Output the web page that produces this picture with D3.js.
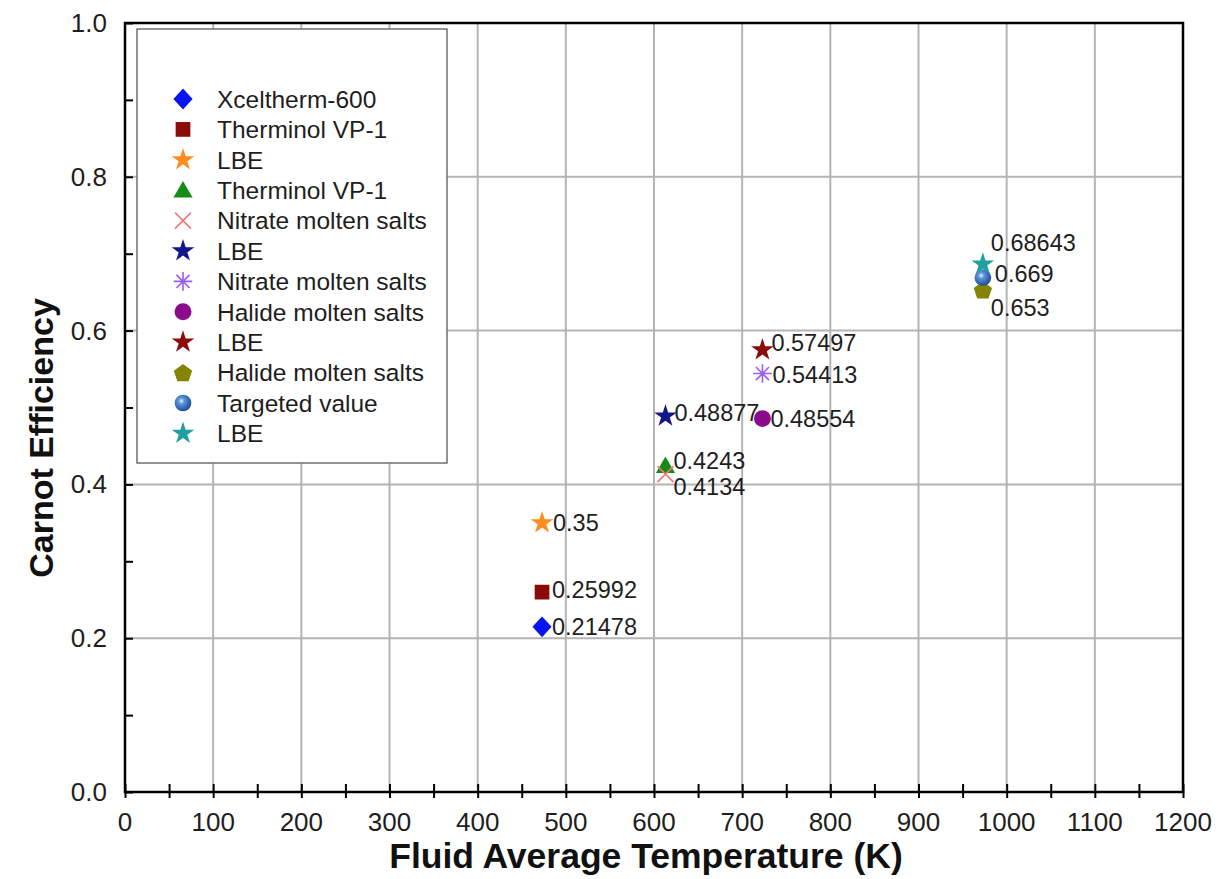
<!DOCTYPE html>
<html>
<head>
<meta charset="utf-8">
<script src="https://cdn.jsdelivr.net/npm/d3@7"></script>
<style>
  html, body { margin: 0; padding: 0; background: #ffffff; }
  svg { display: block; font-family: "Liberation Sans", Arial, Helvetica, sans-serif; }
</style>
</head>
<body>
<svg id="chart" width="1228" height="879"></svg>
<script>
// Carnot efficiency of heat-transfer fluids versus their average temperature
const seriesNames = [
  "Xceltherm-600", "Therminol VP-1", "LBE",
  "Therminol VP-1", "Nitrate molten salts", "LBE",
  "Nitrate molten salts", "Halide molten salts", "LBE",
  "Halide molten salts", "Targeted value", "LBE"
];
const temperatures = [473, 473, 473, 613, 613, 613, 723, 723, 723, 973, 973, 973];
const efficiencies = [0.21478, 0.25992, 0.35, 0.4243, 0.4134, 0.48877, 0.54413, 0.48554, 0.57497, 0.653, 0.669, 0.68643];
// legend rows follow the series order
const legendOrder = [0, 1, 2, 3, 4, 5, 6, 7, 8, 9, 10, 11];
const xTickValues = [0, 100, 200, 300, 400, 500, 600, 700, 800, 900, 1000, 1100, 1200];
const yTickValues = [0.0, 0.2, 0.4, 0.6, 0.8, 1.0];
const yTickLabels = ["0.0", "0.2", "0.4", "0.6", "0.8", "1.0"];
const xTitle = "Fluid Average Temperature (K)";
const yTitle = "Carnot Efficiency";

// marker look for each series
const markerStyle = [
  { shape: "diamond",  color: "#0a14f0" },
  { shape: "square",   color: "#8b0a0a" },
  { shape: "star",     color: "#ff8c1e" },
  { shape: "triangle", color: "#168c16" },
  { shape: "cross",    color: "#f07878" },
  { shape: "star",     color: "#14148c" },
  { shape: "asterisk", color: "#9a5cf0" },
  { shape: "circle",   color: "#8c0a8c" },
  { shape: "star",     color: "#8c0a0a" },
  { shape: "pentagon", color: "#848400" },
  { shape: "sphere",   color: "#2f6fc4" },
  { shape: "star",     color: "#22a0a0" }
];
// value-label nudges (px) so neighbouring labels do not collide
const labelShift = [
  [10, 0], [10, -2], [11, 0],
  [8, -5], [8, 13], [9, -3],
  [10, 1], [8, 0], [9, -7],
  [8, 18], [12, -4], [8, -21]
];

const svg = d3.select("#chart");
const margin = { left: 125, top: 23, right: 45, bottom: 87 };
const W = 1228, H = 879;
const x = d3.scaleLinear().domain([0, 1200]).range([margin.left, W - margin.right]);
const y = d3.scaleLinear().domain([0, 1]).range([H - margin.bottom, margin.top]);
const textColor = "#1e1e1e";

// radial gradient for the shaded sphere marker
const defs = svg.append("defs");
const grad = defs.append("radialGradient").attr("id", "sphereGrad")
  .attr("cx", "40%").attr("cy", "38%").attr("r", "60%");
grad.append("stop").attr("offset", "0%").attr("stop-color", "#e8f2ff");
grad.append("stop").attr("offset", "30%").attr("stop-color", "#5c95dc");
grad.append("stop").attr("offset", "100%").attr("stop-color", "#1f4f9a");

// grid lines
const grid = svg.append("g");
grid.selectAll("line.vg").data(xTickValues.slice(1, -1)).join("line")
  .attr("x1", d => x(d)).attr("x2", d => x(d))
  .attr("y1", y(0)).attr("y2", y(1))
  .attr("stroke", "#b4b4b4").attr("stroke-width", 2);
grid.selectAll("line.hg").data(yTickValues.slice(1, -1)).join("line")
  .attr("x1", x(0)).attr("x2", x(1200))
  .attr("y1", d => y(d)).attr("y2", d => y(d))
  .attr("stroke", "#b4b4b4").attr("stroke-width", 2);

// axes: ticks every 50 K / 0.1, labels on the major ones
const xAxis = d3.axisBottom(x).tickValues(d3.range(0, 1201, 50))
  .tickSize(6).tickPadding(0).tickFormat("");
const gx = svg.append("g").attr("transform", `translate(0,${y(0)})`).call(xAxis);
gx.select(".domain").remove();
gx.selectAll(".tick line").attr("y1", -8).attr("y2", 6)
  .attr("stroke", "#000").attr("stroke-width", 2);

const yAxis = d3.axisLeft(y).tickValues(d3.range(0, 11).map(i => i / 10))
  .tickSize(0).tickFormat("");
const gy = svg.append("g").attr("transform", `translate(${x(0)},0)`).call(yAxis);
gy.select(".domain").remove();
gy.selectAll(".tick line").attr("x1", 0).attr("x2", 8)
  .attr("stroke", "#000").attr("stroke-width", 2);

// tick labels
svg.append("g").selectAll("text").data(xTickValues).join("text")
  .attr("x", d => x(d)).attr("y", y(0) + 39)
  .attr("text-anchor", "middle").attr("font-size", 26).attr("fill", textColor)
  .text(d => d);
svg.append("g").selectAll("text").data(yTickValues).join("text")
  .attr("x", x(0) - 18).attr("y", d => y(d) + 9)
  .attr("text-anchor", "end").attr("font-size", 26).attr("fill", textColor)
  .text((d, i) => yTickLabels[i]);

// plot frame
svg.append("rect")
  .attr("x", x(0)).attr("y", y(1))
  .attr("width", x(1200) - x(0)).attr("height", y(0) - y(1))
  .attr("fill", "none").attr("stroke", "#000").attr("stroke-width", 2.5);

// axis titles
svg.append("text")
  .attr("x", (x(0) + x(1200)) / 2 - 8).attr("y", 868)
  .attr("text-anchor", "middle").attr("font-size", 35.5).attr("font-weight", "bold")
  .attr("fill", "#111").text(xTitle);
svg.append("text")
  .attr("transform", `translate(53,${438}) rotate(-90)`)
  .attr("text-anchor", "middle").attr("font-size", 34).attr("font-weight", "bold")
  .attr("fill", "#111").text(yTitle);

// marker drawing
function drawMarker(g, style, size) {
  const s = size;
  const c = style.color;
  switch (style.shape) {
    case "diamond":
      g.append("path").attr("d", `M0,${-s * 0.65}L${s * 0.6},0L0,${s * 0.65}L${-s * 0.6},0Z`).attr("fill", c);
      break;
    case "square":
      g.append("rect").attr("x", -s * 0.46).attr("y", -s * 0.46)
        .attr("width", s * 0.92).attr("height", s * 0.92).attr("fill", c);
      break;
    case "triangle":
      g.append("path").attr("d", `M0,${-s * 0.58}L${s * 0.6},${s * 0.45}L${-s * 0.6},${s * 0.45}Z`).attr("fill", c);
      break;
    case "star":
      g.append("path").attr("d", d3.symbol(d3.symbolStar, s * s * 0.62)()).attr("fill", c);
      break;
    case "circle":
      g.append("circle").attr("r", s * 0.53).attr("fill", c);
      break;
    case "cross": {
      const r = s * 0.5;
      g.append("path").attr("d", `M${-r},${-r}L${r},${r}M${r},${-r}L${-r},${r}`)
        .attr("stroke", c).attr("stroke-width", 1.6).attr("fill", "none");
      break;
    }
    case "asterisk": {
      const r = s * 0.58;
      const d = d3.range(4).map(i => {
        const a = i * Math.PI / 4;
        return `M${-r * Math.cos(a)},${-r * Math.sin(a)}L${r * Math.cos(a)},${r * Math.sin(a)}`;
      }).join("");
      g.append("path").attr("d", d).attr("stroke", c).attr("stroke-width", 1.6).attr("fill", "none");
      break;
    }
    case "pentagon": {
      const r = s * 0.6;
      const pts = d3.range(5).map(i => {
        const a = -Math.PI / 2 + i * 2 * Math.PI / 5;
        return [r * Math.cos(a), r * Math.sin(a) + 1];
      });
      g.append("path").attr("d", "M" + pts.join("L") + "Z").attr("fill", c);
      break;
    }
    case "sphere":
      g.append("circle").attr("r", s * 0.52).attr("fill", "url(#sphereGrad)");
      break;
  }
}

// data points and value labels
const points = svg.append("g");
efficiencies.forEach((v, i) => {
  const g = points.append("g").attr("transform", `translate(${x(temperatures[i])},${y(v)})`);
  drawMarker(g, markerStyle[i], 16);
});
const labels = svg.append("g");
efficiencies.forEach((v, i) => {
  labels.append("text")
    .attr("x", x(temperatures[i]) + labelShift[i][0])
    .attr("y", y(v) + labelShift[i][1])
    .attr("dy", "0.35em")
    .attr("font-size", 23.5).attr("fill", textColor)
    .text(String(v));
});

// legend
const legend = svg.append("g");
legend.append("rect")
  .attr("x", 137).attr("y", 29).attr("width", 310).attr("height", 434)
  .attr("fill", "#ffffff").attr("stroke", "#707070").attr("stroke-width", 1.5);
legendOrder.forEach((idx, row) => {
  const cy = 99 + row * 30.4;
  const g = legend.append("g").attr("transform", `translate(183,${cy})`);
  drawMarker(g, markerStyle[idx], 16);
  legend.append("text")
    .attr("x", 217).attr("y", cy).attr("dy", "0.36em")
    .attr("font-size", 24.5).attr("fill", textColor)
    .text(seriesNames[idx]);
});
</script>
</body>
</html>
